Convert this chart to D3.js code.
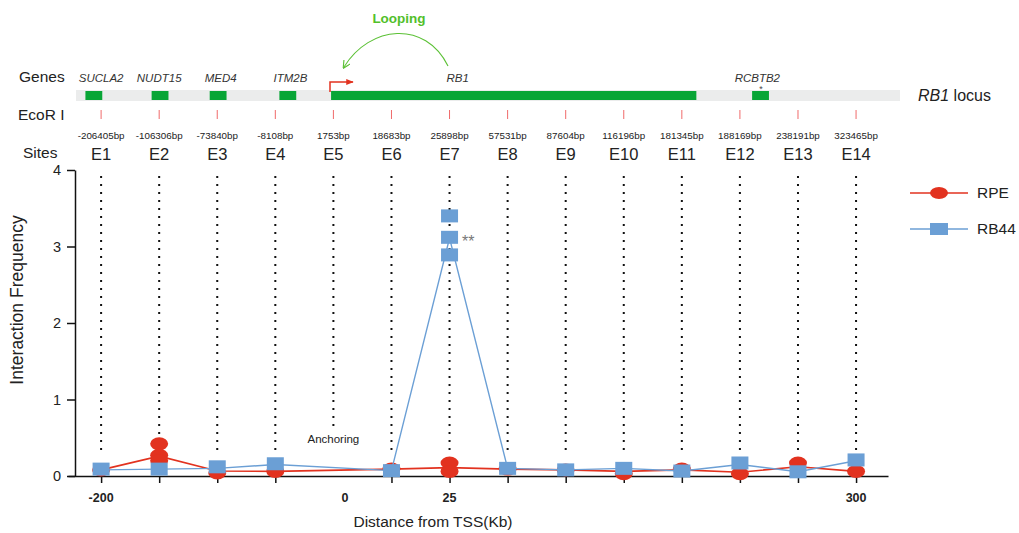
<!DOCTYPE html>
<html>
<head>
<meta charset="utf-8">
<script src="https://cdn.jsdelivr.net/npm/d3@7"></script>
<style>
  body { margin: 0; background: #fff; }
  svg { font-family: "Liberation Sans", Arial, sans-serif; }
</style>
</head>
<body>
<svg id="chart" width="1019" height="533"></svg>
<script>
// sites and restriction fragment positions
var sites = ["E1","E2","E3","E4","E5","E6","E7","E8","E9","E10","E11","E12","E13","E14"];
var bpLabels = ["-206405bp","-106306bp","-73840bp","-8108bp","1753bp","18683bp","25898bp","57531bp","87604bp","116196bp","181345bp","188169bp","238191bp","323465bp"];

// genes on the track, start/end given in site-index units
var genes = [
  {name: "SUCLA2", start: 0.73, end: 1.02, label: 1.0},
  {name: "NUDT15", start: 1.87, end: 2.16, label: 2.0},
  {name: "MED4", start: 2.87, end: 3.16, label: 3.06},
  {name: "ITM2B", start: 4.07, end: 4.36, label: 4.26},
  {name: "RB1", start: 4.96, end: 11.25, label: 7.14},
  {name: "RCBTB2", start: 12.21, end: 12.5, label: 12.3}
];

// line values (mean) per site, null = no measurement
var rpeLine  = [0.08, 0.26, 0.065, 0.06, null, 0.09, 0.11, 0.09, 0.08, 0.06, 0.08, 0.05, 0.12, 0.06];
var rb44Line = [0.08, 0.09, 0.10, 0.15, null, 0.07, 3.11, 0.10, 0.08, 0.10, 0.065, 0.15, 0.055, 0.20];

// replicate points
var rpePoints = [[0.08],[0.42,0.27,0.20],[0.04],[0.06],[],[0.09],[0.17,0.06],[0.09],[0.08],[0.03],[0.09],[0.03],[0.17],[0.06]];
var rb44Points = [[0.09],[0.09],[0.12],[0.16],[],[0.07],[3.40,3.12,2.89],[0.10],[0.08],[0.10],[0.065],[0.17],[0.055],[0.21]];

var yTicks = [0, 1, 2, 3, 4];
var xTickLabels = [{pos: 1, text: "-200"}, {pos: 5.2, text: "0"}, {pos: 7, text: "25"}, {pos: 14, text: "300"}];

var svg = d3.select("#chart");

var xScale = d3.scaleLinear().domain([0.43, 14.55]).range([68, 888]);
var yScale = d3.scaleLinear().domain([0, 4]).range([476, 170]);

var red = "#e2321f";
var blue = "#6b9fd5";
var green = "#08a536";

// ---- top gene track ----
svg.append("text").attr("x", 19).attr("y", 82).attr("font-size", 15.5).attr("fill", "#222").text("Genes");
svg.append("text").attr("x", 18).attr("y", 120).attr("font-size", 15.5).attr("fill", "#222").text("EcoR I");
svg.append("text").attr("x", 23).attr("y", 158).attr("font-size", 15.5).attr("fill", "#222").text("Sites");

svg.append("rect")
  .attr("x", 76).attr("y", 90)
  .attr("width", 824).attr("height", 11)
  .attr("fill", "#ebecec");

svg.selectAll(".gene")
  .data(genes)
  .enter()
  .append("rect")
  .attr("x", d => xScale(d.start))
  .attr("y", 91)
  .attr("width", d => xScale(d.end) - xScale(d.start))
  .attr("height", 9)
  .attr("fill", green);

svg.selectAll(".genename")
  .data(genes)
  .enter()
  .append("text")
  .attr("x", d => xScale(d.label))
  .attr("y", 82)
  .attr("text-anchor", "middle")
  .attr("font-size", 11.5)
  .attr("font-style", "italic")
  .attr("fill", "#333")
  .text(d => d.name);

svg.append("text").attr("x", 761).attr("y", 92).attr("text-anchor", "middle")
  .attr("font-size", 9).attr("fill", "#444").text("*");

var locus = svg.append("text").attr("x", 918).attr("y", 101).attr("font-size", 16).attr("fill", "#222");
locus.append("tspan").attr("font-style", "italic").text("RB1");
locus.append("tspan").text(" locus");

// TSS arrow
svg.append("defs").append("marker")
  .attr("id", "tss").attr("viewBox", "0 0 10 10")
  .attr("refX", 9).attr("refY", 5)
  .attr("markerWidth", 5).attr("markerHeight", 5)
  .attr("orient", "auto")
  .append("path").attr("d", "M0,1L10,5L0,9Z").attr("fill", red);
svg.append("path")
  .attr("d", "M330,92V82H353")
  .attr("fill", "none").attr("stroke", red).attr("stroke-width", 1.5)
  .attr("marker-end", "url(#tss)");

// looping arc
svg.select("defs").append("marker")
  .attr("id", "loop").attr("viewBox", "0 0 10 10")
  .attr("refX", 8).attr("refY", 5)
  .attr("markerWidth", 7).attr("markerHeight", 7)
  .attr("orient", "auto")
  .append("path").attr("d", "M0,0L10,5L0,10").attr("fill", "none").attr("stroke", "#5cc136").attr("stroke-width", 1.5);
svg.append("path")
  .attr("d", "M448,66C425,20 370,25 344,67")
  .attr("fill", "none").attr("stroke", "#5cc136").attr("stroke-width", 1.1)
  .attr("marker-end", "url(#loop)");
svg.append("text").attr("x", 399).attr("y", 23).attr("text-anchor", "middle")
  .attr("font-size", 13.5).attr("font-weight", "bold").attr("fill", "#52c02a").text("Looping");

// restriction site marks
svg.selectAll(".ecor")
  .data(sites)
  .enter()
  .append("line")
  .attr("x1", (d, i) => xScale(i + 1)).attr("x2", (d, i) => xScale(i + 1))
  .attr("y1", 110).attr("y2", 119)
  .attr("stroke", "#f06a6a").attr("stroke-width", 1);

svg.selectAll(".bp")
  .data(bpLabels)
  .enter()
  .append("text")
  .attr("x", (d, i) => xScale(i + 1))
  .attr("y", 139)
  .attr("text-anchor", "middle")
  .attr("font-size", 9.8)
  .attr("fill", "#222")
  .text(d => d);

svg.selectAll(".site")
  .data(sites)
  .enter()
  .append("text")
  .attr("x", (d, i) => xScale(i + 1))
  .attr("y", 160)
  .attr("text-anchor", "middle")
  .attr("font-size", 16.5)
  .attr("fill", "#222")
  .text(d => d);

// ---- plot ----
// dotted guide lines
svg.selectAll(".guide")
  .data(sites)
  .enter()
  .append("line")
  .attr("x1", (d, i) => xScale(i + 1)).attr("x2", (d, i) => xScale(i + 1))
  .attr("y1", 176)
  .attr("y2", (d, i) => i == 4 ? 426 : 456)
  .attr("stroke", "#111").attr("stroke-width", 2)
  .attr("stroke-dasharray", "2,6");

svg.append("text").attr("x", xScale(5)).attr("y", 443).attr("text-anchor", "middle")
  .attr("font-size", 11.5).attr("fill", "#222").text("Anchoring");

// axes
svg.append("g")
  .attr("transform", "translate(75,0)")
  .call(d3.axisLeft(yScale).tickValues(yTicks).tickSize(8).tickSizeOuter(0).tickPadding(6).tickFormat(d3.format("d")))
  .call(g => g.selectAll("text").attr("font-size", 14.5).attr("fill", "#222").attr("font-family", "Liberation Sans, Arial, sans-serif"))
  .call(g => g.selectAll("line, path").attr("stroke", "#111").attr("stroke-width", 1.5));

svg.append("g")
  .attr("transform", "translate(0,476)")
  .call(d3.axisBottom(xScale).tickValues([1,2,3,4,6,7,8,9,10,11,12,13,14]).tickSize(7).tickSizeOuter(0).tickFormat(""))
  .call(g => g.selectAll("line, path").attr("stroke", "#111").attr("stroke-width", 1.5));

svg.selectAll(".xlab")
  .data(xTickLabels)
  .enter()
  .append("text")
  .attr("x", d => xScale(d.pos))
  .attr("y", 502)
  .attr("text-anchor", "middle")
  .attr("font-size", 12.5)
  .attr("font-weight", "bold")
  .attr("fill", "#222")
  .text(d => d.text);

svg.append("text")
  .attr("transform", "translate(23,300)rotate(-90)")
  .attr("text-anchor", "middle")
  .attr("font-size", 17.5).attr("fill", "#222")
  .text("Interaction Frequency");

svg.append("text")
  .attr("x", 433).attr("y", 527)
  .attr("text-anchor", "middle")
  .attr("font-size", 15.5).attr("fill", "#222")
  .text("Distance from TSS(Kb)");

// series
function flatPoints(reps) {
  var out = [];
  reps.forEach((r, i) => r.forEach(v => out.push({i: i + 1, v: v})));
  return out;
}

// line skips the missing site, so join neighbours directly
var rpeDefined = rpeLine.map((d, i) => ({i: i + 1, v: d})).filter(d => d.v != null);
var rb44Defined = rb44Line.map((d, i) => ({i: i + 1, v: d})).filter(d => d.v != null);
var line = d3.line().x(d => xScale(d.i)).y(d => yScale(d.v));

svg.append("path")
  .attr("d", line(rpeDefined))
  .attr("fill", "none").attr("stroke", red).attr("stroke-width", 1.6);

svg.selectAll(".rpe")
  .data(flatPoints(rpePoints))
  .enter()
  .append("ellipse")
  .attr("cx", d => xScale(d.i))
  .attr("cy", d => yScale(d.v))
  .attr("rx", 9).attr("ry", 6.5)
  .attr("fill", red);

svg.append("path")
  .attr("d", line(rb44Defined))
  .attr("fill", "none").attr("stroke", blue).attr("stroke-width", 1.4);

svg.selectAll(".rb44")
  .data(flatPoints(rb44Points))
  .enter()
  .append("rect")
  .attr("x", d => xScale(d.i) - 8.5)
  .attr("y", d => yScale(d.v) - 6.5)
  .attr("width", 17).attr("height", 13)
  .attr("fill", blue);

svg.append("text").attr("x", 462).attr("y", 247)
  .attr("font-size", 16).attr("fill", "#777").text("**");

// legend
var legend = [{name: "RPE", color: red, y: 193, shape: "ellipse"}, {name: "RB44", color: blue, y: 229, shape: "rect"}];
var lg = svg.selectAll(".legend").data(legend).enter().append("g");
lg.append("line")
  .attr("x1", 910).attr("x2", 968)
  .attr("y1", d => d.y).attr("y2", d => d.y)
  .attr("stroke", d => d.color).attr("stroke-width", 1.6);
lg.filter(d => d.shape == "ellipse").append("ellipse")
  .attr("cx", 939).attr("cy", d => d.y).attr("rx", 9).attr("ry", 6)
  .attr("fill", d => d.color);
lg.filter(d => d.shape == "rect").append("rect")
  .attr("x", 930).attr("y", d => d.y - 6).attr("width", 18).attr("height", 12)
  .attr("fill", d => d.color);
lg.append("text")
  .attr("x", 977).attr("y", d => d.y + 5)
  .attr("font-size", 15.5).attr("fill", "#222")
  .text(d => d.name);
</script>
</body>
</html>
